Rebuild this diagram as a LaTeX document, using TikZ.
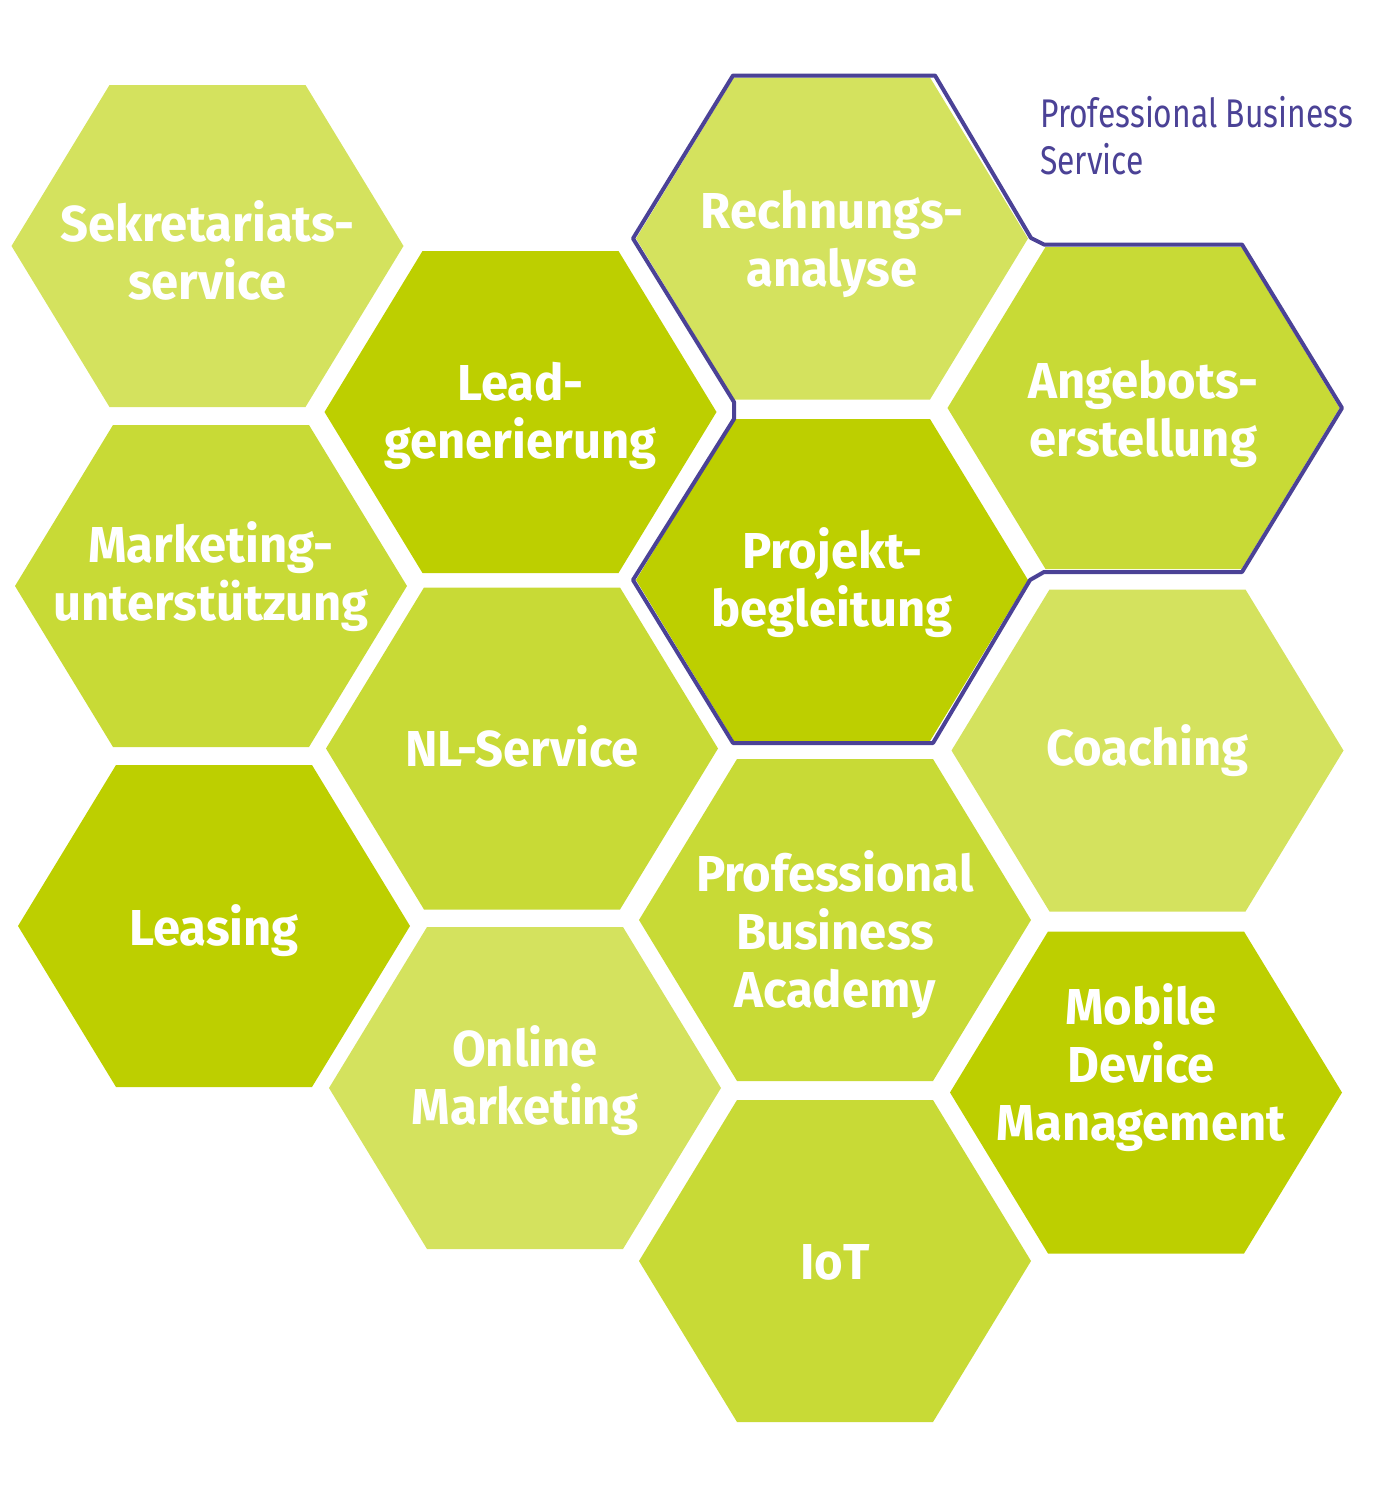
\documentclass[tikz,border=0pt]{standalone}
\usepackage{fontspec}
\setmainfont{Fira Sans}
\newfontfamily\cellfont[FakeStretch=0.97]{Fira Sans}
\newfontfamily\tagfont[FakeStretch=0.795]{Fira Sans}
\usetikzlibrary{positioning}
\definecolor{colpale}{RGB}{212,226,94}
\definecolor{colmid}{RGB}{200,218,54}
\definecolor{coldeep}{RGB}{189,207,0}
\definecolor{colviolet}{RGB}{75,66,150}
\tikzset{hexcell/.pic={\fill (-196,0) -- (-98,-161) -- (98,-161) -- (196,0) -- (98,161) -- (-98,161) -- cycle;}}
\tikzset{hexpale/.style={fill=colpale}, hexmid/.style={fill=colmid}, hexdeep/.style={fill=coldeep}}
\tikzstyle{cell}=[text=white, align=center, inner sep=0pt, font=\cellfont\bfseries\fontsize{50.5}{58}\selectfont]

\begin{document}
\begin{tikzpicture}[x=1pt, y=-1pt]
\useasboundingbox (0,0) rectangle (1375,1510);
% first column
\pic[hexpale] at (207.5,246) {hexcell};
\pic[hexmid] at (211,586) {hexcell};
\pic[hexdeep] at (214,926) {hexcell};
% second column
\pic[hexdeep] at (520.5,412) {hexcell};
\pic[hexmid] at (522,748.5) {hexcell};
\pic[hexpale] at (525,1088) {hexcell};
% third column
\pic[hexpale] at (832,238.5) {hexcell};
\pic[hexdeep] at (832,580) {hexcell};
\pic[hexmid] at (835,920) {hexcell};
\pic[hexmid] at (835,1261) {hexcell};
% fourth column
\pic[hexmid] at (1143.5,408) {hexcell};
\pic[hexpale] at (1147.5,750.5) {hexcell};
\pic[hexdeep] at (1146,1092.5) {hexcell};

\node[cell] (sekr) at (207.5,250) {Sekretariats-\\service};
\node[cell] (mark) at (211,577) {Marketing-\\unterstützung};
\node[cell] (leas) at (214,931) {Leasing};
\node[cell] (lead) at (520.5,416) {Lead-\\generierung};
\node[cell] (nlserv) at (522,746) {NL-Service};
\node[cell] (online) at (525,1081) {Online\\Marketing};
\node[cell] (rech) at (832,244) {Rechnungs-\\analyse};
\node[cell] (proj) at (832,583) {Projekt-\\begleitung};
\node[cell] (pba) at (835,935) {Professional\\Business\\Academy};
\node[cell] (iot) at (835,1262) {IoT};
\node[cell] (angeb) at (1143.5,414) {Angebots-\\erstellung};
\node[cell] (coach) at (1147.5,751) {Coaching};
\node[cell] (mobile) at (1141,1068) {Mobile\\Device\\Management};

% group outline
\draw[colviolet, line width=4pt, line join=round]
  (633,238.5) -- (733,75.5) -- (935,75.5) -- (1031,238) -- (1044,244.5)
  -- (1242,244.5) -- (1342,408) -- (1242,572) -- (1044,572) -- (1030,580)
  -- (933,743) -- (733,743) -- (633,580) -- (734,419) -- (734,402) -- cycle;
\node[text=colviolet, align=left, anchor=base west, inner sep=0pt,
  font=\tagfont\fontsize{40}{47}\selectfont] (pbs) at (1040,174) {Professional Business\\Service};
\end{tikzpicture}
\end{document}
